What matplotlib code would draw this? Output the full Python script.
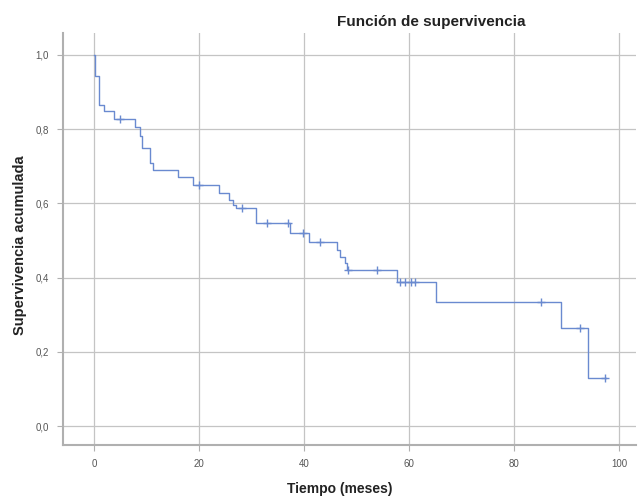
import numpy as np
import matplotlib
matplotlib.use("Agg")
import matplotlib.pyplot as plt

# ---- data ----
event_times = [0, 0.1, 0.95, 1.9, 3.8, 7.75, 8.7, 9.2, 10.6, 11.2, 16.0, 18.9,
               23.8, 25.8, 26.5, 27.1, 30.9, 37.3, 40.95, 46.2, 46.8, 47.8,
               48.1, 57.6, 65.2, 88.9, 94.0]
survival = [1.0, 0.943, 0.866, 0.848, 0.828, 0.806, 0.781, 0.749, 0.709, 0.69,
            0.672, 0.65, 0.629, 0.609, 0.596, 0.587, 0.548, 0.521, 0.497, 0.474,
            0.455, 0.44, 0.42, 0.388, 0.333, 0.265, 0.13]
end_time = 97.5
censor_times = [4.9, 19.9, 28.1, 33.0, 37.0, 39.8, 43.0, 48.3, 53.8, 58.2,
                59.2, 60.3, 61.1, 85.1, 92.5, 97.3]

x_ticks = [0, 20, 40, 60, 80, 100]
x_tick_labels = ["0", "20", "40", "60", "80", "100"]
y_ticks = [0.0, 0.2, 0.4, 0.6, 0.8, 1.0]
y_tick_labels = ["0,0", "0,2", "0,4", "0,6", "0,8", "1,0"]

title = "Función de supervivencia"
xlabel = "Tiempo (meses)"
ylabel = "Supervivencia acumulada"

# ---- plot ----
plt.rcParams['font.family'] = ['Liberation Sans', 'DejaVu Sans']
fig = plt.figure(figsize=(6.38, 4.97), dpi=100)
ax = fig.add_axes([63/638, 1-445/497, (636-63)/638, (445-33)/497])

line_color = '#6a8ad0'
t = np.array(event_times + [end_time])
s = np.array(survival + [survival[-1]])
ax.step(t, s, where='post', color=line_color, lw=1.0, zorder=3)

ct = np.array(censor_times)
idx = np.searchsorted(np.array(event_times), ct, side='right') - 1
cs = np.array(survival)[idx]
ax.plot(ct, cs, linestyle='none', marker='+', markersize=6, mew=1.0,
        color=line_color, zorder=4)

ax.set_xlim(-5.9, 103.2)
ax.set_ylim(-0.051, 1.059)
ax.set_xticks(x_ticks)
ax.set_xticklabels(x_tick_labels)
ax.set_yticks(y_ticks)
ax.set_yticklabels(y_tick_labels)
ax.grid(True, color='#c4c4c4', lw=0.9)
ax.set_axisbelow(True)
for side in ['top', 'right']:
    ax.spines[side].set_visible(False)
for side in ['left', 'bottom']:
    ax.spines[side].set_color('#b0b0b0')
    ax.spines[side].set_linewidth(1.5)
ax.tick_params(axis='both', length=4, width=0.8, color='#b0b0b0',
               labelsize=7, labelcolor='#555555', pad=6)

fig.text(431/638, 1-22/497, title, ha='center', va='center', fontsize=11,
         fontweight='bold', color='#222222')
fig.text(340/638, 1-489/497, xlabel, ha='center', va='center', fontsize=10,
         fontweight='bold', color='#222222')
fig.text(20/638, 1-245/497, ylabel, ha='center', va='center', fontsize=10.5,
         fontweight='bold', rotation=90, color='#222222')

fig.savefig("out.png", dpi=100)
